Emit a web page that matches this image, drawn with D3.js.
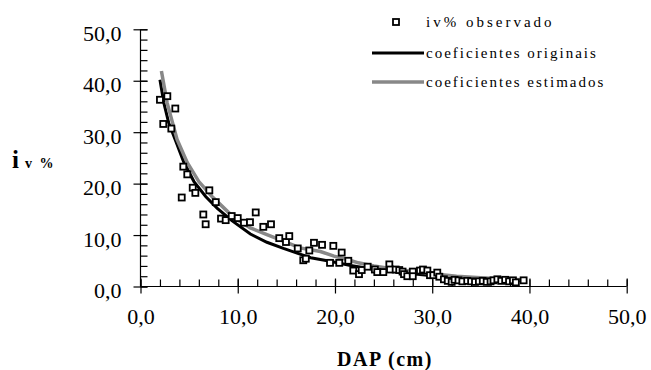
<!DOCTYPE html>
<html>
<head>
<meta charset="utf-8">
<script src="https://cdn.jsdelivr.net/npm/d3@7"></script>
<style>
  html, body { margin: 0; padding: 0; background: #fff; }
  svg { display: block; font-family: "Liberation Serif", "Times New Roman", serif; }
</style>
</head>
<body>
<svg id="chart" width="651" height="370"></svg>
<script>
// ---- Data ----
const obsDAP = [2.0, 2.76, 3.58, 2.34, 3.17, 4.40, 4.81, 5.37, 5.64, 7.08, 4.24, 7.74, 6.46, 6.70,
  8.28, 8.76, 9.38, 10.0, 10.64, 11.26, 11.85, 12.63, 13.42, 14.27, 14.96, 15.3, 16.17, 16.74,
  17.0, 17.36, 17.84, 18.67, 19.49, 19.83, 20.44, 20.69, 21.37, 21.88, 22.47, 22.75, 23.36,
  24.1, 24.35, 24.97, 25.59, 25.66, 26.24, 26.61, 26.95, 27.1, 27.44, 28.0, 28.0, 28.74, 29.05,
  29.5, 29.77, 30.11, 30.52, 30.73, 31.2, 31.6, 32.0, 32.3, 32.7, 33.1, 33.6, 34.0, 34.4,
  34.8, 35.2, 35.6, 36.0, 36.3, 36.7, 37.1, 37.5, 37.9, 38.3, 38.6, 39.4];
const obsIV = [36.3, 37.0, 34.6, 31.6, 30.7, 23.3, 21.8, 19.2, 18.2, 18.7, 17.3, 16.4, 14.0, 12.1,
  13.2, 12.9, 13.7, 13.3, 12.4, 12.5, 14.4, 11.6, 12.1, 9.4, 8.65, 9.8, 7.4, 5.1,
  5.4, 7.0, 8.5, 8.1, 4.6, 7.9, 4.6, 6.6, 5.0, 3.1, 2.4, 3.2, 3.85,
  3.3, 2.8, 2.8, 4.3, 3.3, 3.3, 3.2, 2.9, 2.4, 2.0, 2.9, 2.0, 3.1, 3.3,
  3.1, 2.2, 2.2, 2.7, 1.9, 1.4, 1.1, 0.9, 1.3, 1.2, 1.0, 1.1, 1.0, 0.9,
  1.0, 1.1, 0.9, 1.0, 1.2, 1.4, 1.1, 1.3, 1.0, 1.2, 0.8, 1.2];

const origDAP = [2.0, 2.4, 2.9, 3.6, 4.45, 5.5, 6.7, 7.9, 9.4, 11.3, 13.0, 14.7, 16.4, 17.5,
  19.5, 21.6, 23.5, 25.5, 28.0, 30.0, 32.5, 35.0, 37.0, 39.3];
const origIV = [40.2, 35.7, 31.8, 28.4, 24.2, 20.4, 17.5, 15.2, 12.8, 10.2, 8.6, 7.4, 6.3, 5.6,
  4.9, 4.1, 3.5, 3.0, 2.5, 2.1, 1.7, 1.5, 1.3, 1.1];

const estDAP = [2.15, 2.74, 3.76, 4.8, 6.0, 7.35, 7.9, 9.6, 11.3, 13.0, 14.7, 16.4, 18.5, 19.9,
  21.2, 22.4, 24.0, 26.0, 28.0, 30.0, 32.5, 35.0, 37.0, 39.3];
const estIV = [41.9, 35.7, 28.6, 24.1, 20.4, 17.5, 16.5, 13.4, 11.4, 10.1, 8.8, 7.5, 6.8, 5.9,
  5.3, 4.6, 4.0, 3.4, 2.9, 2.5, 2.0, 1.7, 1.5, 1.3];

const xTicks = [0, 10, 20, 30, 40, 50];
const yTicks = [0, 10, 20, 30, 40, 50];
const legendLabels = ["iv% observado", "coeficientes originais", "coeficientes estimados"];

// ---- Layout ----
const svg = d3.select("#chart");
const x = d3.scaleLinear().domain([0, 50]).range([140.5, 626.7]);
const y = d3.scaleLinear().domain([0, 50]).range([286.5, 29.3]);
const fmt = d => d3.format(".1f")(d).replace(".", ",");

// Y axis
const yAxisG = svg.append("g").attr("transform", `translate(${x(0)},0)`);
yAxisG.append("g").call(d3.axisRight(y).tickValues(d3.range(0, 50.01, 2)).tickSize(7).tickFormat(""))
  .call(g => g.select(".domain").remove());
yAxisG.append("g").call(d3.axisLeft(y).tickValues(yTicks).tickSize(7).tickFormat(fmt).tickPadding(12))
  .call(g => g.select(".domain").remove())
  .call(g => g.selectAll("text").attr("font-size", 22).attr("font-family", "Liberation Serif, serif").attr("dy", "0.5em").attr("fill", "#000"));
yAxisG.append("g").call(d3.axisRight(y).tickValues(yTicks).tickSize(7).tickFormat(""))
  .call(g => g.select(".domain").remove());
yAxisG.append("line").attr("x1", 0).attr("x2", 0).attr("y1", y(50)).attr("y2", y(0)).attr("stroke", "#000").attr("stroke-width", 1.2);

// X axis
const xAxisG = svg.append("g").attr("transform", `translate(0,${y(0)})`);
xAxisG.append("g").call(d3.axisTop(x).tickValues(d3.range(0, 50.01, 2)).tickSize(7).tickFormat(""))
  .call(g => g.select(".domain").remove());
xAxisG.append("g").call(d3.axisTop(x).tickValues(xTicks).tickSize(8).tickFormat(""))
  .call(g => g.select(".domain").remove());
xAxisG.append("g").call(d3.axisBottom(x).tickValues(xTicks).tickSize(7).tickFormat(fmt).tickPadding(15))
  .call(g => g.select(".domain").remove())
  .call(g => g.selectAll("text").attr("font-size", 22).attr("font-family", "Liberation Serif, serif").attr("fill", "#000"));
xAxisG.append("line").attr("x1", x(0)).attr("x2", x(50)).attr("y1", 0).attr("y2", 0).attr("stroke", "#000").attr("stroke-width", 1.2);
svg.selectAll(".tick line").attr("stroke", "#000").attr("stroke-width", 1.2);

// Axis titles
svg.append("text").attr("x", 385).attr("y", 366).attr("text-anchor", "middle")
  .attr("font-size", 20).attr("font-weight", "bold").attr("letter-spacing", 1.5).text("DAP (cm)");
const yt = svg.append("text").attr("x", 12).attr("y", 168).attr("font-weight", "bold");
yt.append("tspan").attr("font-size", 25).text("i");
yt.append("tspan").attr("font-size", 14).attr("dx", 6).attr("letter-spacing", 2).text("v %");

// Lines
const line = d3.line().x(d => x(d[0])).y(d => y(d[1]));
const orig = origDAP.map((d, i) => [d, origIV[i]]);
const est = estDAP.map((d, i) => [d, estIV[i]]);
svg.append("path").datum(orig).attr("d", line).attr("fill", "none").attr("stroke", "#000").attr("stroke-width", 3);
svg.append("path").datum(est).attr("d", line).attr("fill", "none").attr("stroke", "#888").attr("stroke-width", 3.5);

// Points
svg.append("g").selectAll("rect").data(obsDAP.map((d, i) => [d, obsIV[i]])).join("rect")
  .attr("x", d => x(d[0]) - 3).attr("y", d => y(d[1]) - 3)
  .attr("width", 6).attr("height", 6)
  .attr("fill", "#fff").attr("stroke", "#000").attr("stroke-width", 1.8);

// Legend
const lg = svg.append("g");
const rows = [22, 53, 82];
lg.append("rect").attr("x", 393).attr("y", rows[0] - 3).attr("width", 6).attr("height", 6)
  .attr("fill", "#fff").attr("stroke", "#000").attr("stroke-width", 1.8);
lg.append("line").attr("x1", 372).attr("x2", 424).attr("y1", rows[1]).attr("y2", rows[1]).attr("stroke", "#000").attr("stroke-width", 3);
lg.append("line").attr("x1", 372).attr("x2", 424).attr("y1", rows[2]).attr("y2", rows[2]).attr("stroke", "#888").attr("stroke-width", 3.5);
lg.selectAll("text.lab").data(legendLabels).join("text").attr("class", "lab")
  .attr("x", 426).attr("y", (d, i) => rows[i] + 5)
  .attr("font-size", 15).attr("letter-spacing", (d, i) => i === 0 ? 3 : 2).text(d => d);
</script>
</body>
</html>
